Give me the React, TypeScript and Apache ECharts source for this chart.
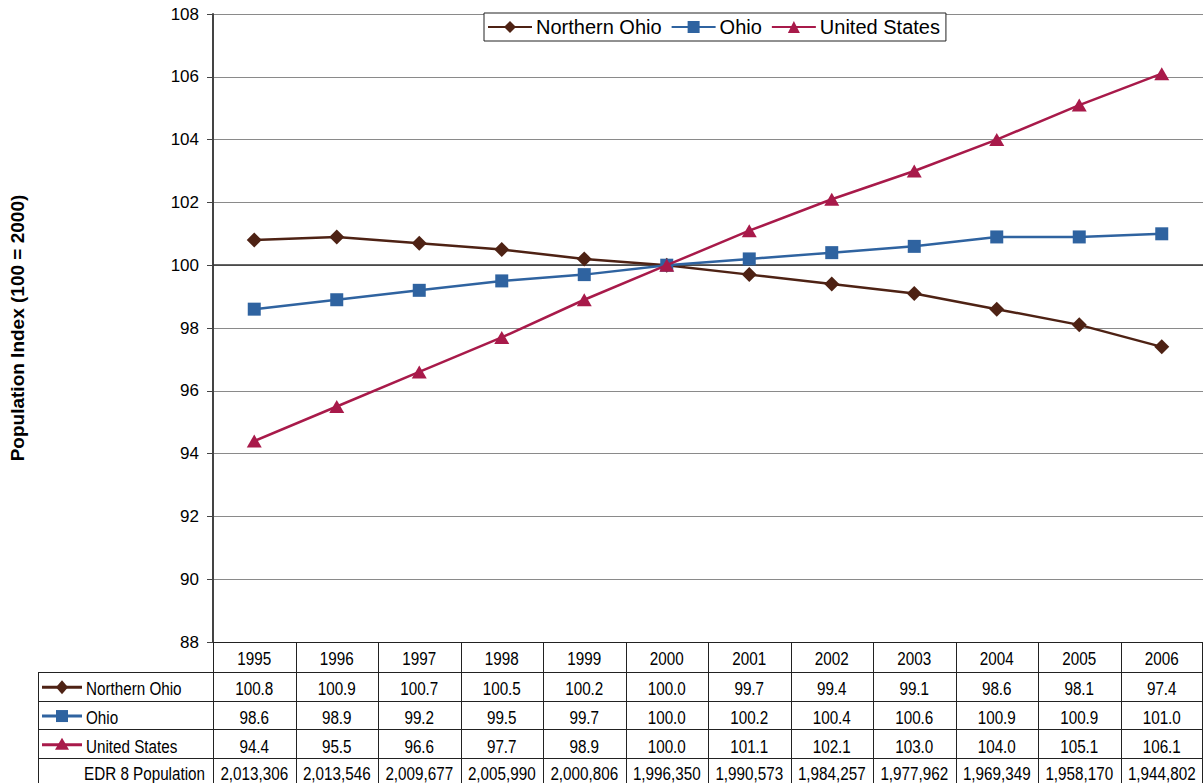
import React, { useEffect, useRef } from "react";
import * as echarts from "echarts";

const years = ["1995", "1996", "1997", "1998", "1999", "2000", "2001", "2002", "2003", "2004", "2005", "2006"];
const northernOhio = [100.8, 100.9, 100.7, 100.5, 100.2, 100.0, 99.7, 99.4, 99.1, 98.6, 98.1, 97.4];
const ohio = [98.6, 98.9, 99.2, 99.5, 99.7, 100.0, 100.2, 100.4, 100.6, 100.9, 100.9, 101.0];
const unitedStates = [94.4, 95.5, 96.6, 97.7, 98.9, 100.0, 101.1, 102.1, 103.0, 104.0, 105.1, 106.1];
const edrPopulation = ["2,013,306", "2,013,546", "2,009,677", "2,005,990", "2,000,806", "1,996,350", "1,990,573", "1,984,257", "1,977,962", "1,969,349", "1,958,170", "1,944,802"];
const baseIndex = 100;

const W = 1203;
const H = 783;
const GRID_L = 213;
const GRID_R = 1203;
const GRID_T = 14;
const GRID_B = 642;
const TABLE_L = 38;
const ROW_H = 28.7;
const HEADER_B = 672;

const FONT = "'Liberation Sans', Arial, sans-serif";
const NARROW = 0.87;
const LINE_COLOR = "#222";

const seriesDefs = [
  { name: "Northern Ohio", data: northernOhio, color: "#4e2214", symbol: "diamond", size: 15 },
  { name: "Ohio", data: ohio, color: "#2f63a0", symbol: "rect", size: 13 },
  { name: "United States", data: unitedStates, color: "#a81a4a", symbol: "triangle", size: 14 },
];

function fmt(v: number) {
  return v.toFixed(1);
}

function markerShape(symbol: string, cx: number, cy: number, color: string) {
  if (symbol === "diamond") {
    return {
      type: "polygon",
      shape: { points: [[cx, cy - 7], [cx + 6, cy], [cx, cy + 7], [cx - 6, cy]] },
      style: { fill: color },
    };
  }
  if (symbol === "rect") {
    return { type: "rect", shape: { x: cx - 6, y: cy - 6, width: 12, height: 12 }, style: { fill: color } };
  }
  return {
    type: "polygon",
    shape: { points: [[cx, cy - 7], [cx + 7, cy + 5], [cx - 7, cy + 5]] },
    style: { fill: color },
  };
}

// narrow table text: scaled horizontally about its anchor point
function cellText(x: number, y: number, text: string, align: string) {
  return {
    type: "text",
    x,
    y,
    scaleX: NARROW,
    style: { x: 0, y: 0, text, fill: "#000", font: `17.5px ${FONT}`, textAlign: align, textVerticalAlign: "middle" },
  };
}

function buildTable() {
  const els: any[] = [];
  const colW = (GRID_R - GRID_L) / years.length;
  const rowCount = 4;
  const tableBottom = H + 10;
  for (let i = 0; i < rowCount; i++) {
    const y = Math.round(HEADER_B + ROW_H * i) + 0.5;
    els.push({ type: "line", shape: { x1: TABLE_L, y1: y, x2: GRID_R, y2: y }, style: { stroke: LINE_COLOR, lineWidth: 1 } });
  }
  els.push({ type: "line", shape: { x1: TABLE_L + 0.5, y1: HEADER_B, x2: TABLE_L + 0.5, y2: tableBottom }, style: { stroke: LINE_COLOR, lineWidth: 1 } });
  for (let c = 0; c <= years.length; c++) {
    const x = Math.min(Math.round(GRID_L + colW * c) + 0.5, GRID_R - 0.5);
    els.push({ type: "line", shape: { x1: x, y1: GRID_B, x2: x, y2: tableBottom }, style: { stroke: LINE_COLOR, lineWidth: 1 } });
  }
  // header: years
  years.forEach((yr, c) => {
    els.push(cellText(GRID_L + colW * (c + 0.5), GRID_B + 16.5, yr, "center"));
  });
  seriesDefs.forEach((s, r) => {
    const rowMid = HEADER_B + ROW_H * r + ROW_H / 2;
    const cy = rowMid + 2.5;
    els.push({ type: "line", shape: { x1: 42, y1: rowMid + 1, x2: 82, y2: rowMid + 1 }, style: { stroke: s.color, lineWidth: 3 } });
    els.push(markerShape(s.symbol, 62, rowMid + 1, s.color));
    els.push(cellText(86, cy, s.name, "left"));
    s.data.forEach((v, c) => {
      els.push(cellText(GRID_L + colW * (c + 0.5), cy, fmt(v), "center"));
    });
  });
  const popY = HEADER_B + ROW_H * 3 + 15.5;
  els.push(cellText(205, popY, "EDR 8 Population", "right"));
  edrPopulation.forEach((p, c) => {
    els.push(cellText(GRID_L + colW * (c + 0.5), popY, p, "center"));
  });
  return els;
}

export default function App() {
  const ref = useRef<HTMLDivElement>(null);

  useEffect(() => {
    document.body.style.margin = "0";
    if (!ref.current) return;
    const chart = echarts.init(ref.current, null, { renderer: "svg" });
    chart.setOption({
      animation: false,
      backgroundColor: "#fff",
      textStyle: { fontFamily: FONT },
      grid: {
        left: GRID_L,
        right: W - GRID_R,
        top: GRID_T,
        bottom: H - GRID_B,
        containLabel: false,
        outerBoundsMode: "none",
      },
      legend: {
        top: 13,
        left: 484,
        padding: [4, 6, 4, 3],
        itemGap: 9,
        itemWidth: 44,
        itemHeight: 15,
        backgroundColor: "#fff",
        borderColor: "#222",
        borderWidth: 1,
        borderRadius: 0,
        textStyle: { fontFamily: FONT, fontSize: 20, color: "#000", padding: [0, 0, 0, -1] },
        data: seriesDefs.map((s) => s.name),
      },
      xAxis: {
        type: "category",
        data: years,
        boundaryGap: true,
        axisLine: { show: true, lineStyle: { color: LINE_COLOR, width: 1 } },
        axisTick: { show: false },
        axisLabel: { show: false },
        splitLine: { show: false },
      },
      yAxis: {
        type: "value",
        min: 88,
        max: 108,
        interval: 2,
        name: "Population Index (100 = 2000)",
        nameLocation: "middle",
        nameGap: 186,
        nameTextStyle: { fontFamily: FONT, fontSize: 19, fontWeight: "bold", color: "#000" },
        axisLine: { show: true, lineStyle: { color: "#444", width: 2 } },
        axisTick: { show: true, inside: false, length: 6, lineStyle: { color: "#444" } },
        axisLabel: { color: "#000", fontSize: 17, fontFamily: FONT, margin: 14 },
        splitLine: { show: true, lineStyle: { color: "#8a8a8a", width: 1 } },
      },
      series: seriesDefs.map((s, i) => ({
        name: s.name,
        type: "line",
        z: 3 + i,
        data: s.data,
        symbol: s.symbol,
        symbolSize: s.symbol === "triangle" ? [15, 13] : s.size,
        showSymbol: true,
        lineStyle: { color: s.color, width: 2.5 },
        itemStyle: { color: s.color },
        emphasis: { disabled: true },
        markLine:
          i === 0
            ? {
                silent: true,
                symbol: "none",
                z: 1,
                label: { show: false },
                lineStyle: { color: "#333", width: 1.5, type: "solid" },
                data: [{ yAxis: baseIndex }],
              }
            : undefined,
      })),
      graphic: buildTable(),
    });
    return () => chart.dispose();
  }, []);

  return <div ref={ref} style={{ width: W, height: H }} />;
}
